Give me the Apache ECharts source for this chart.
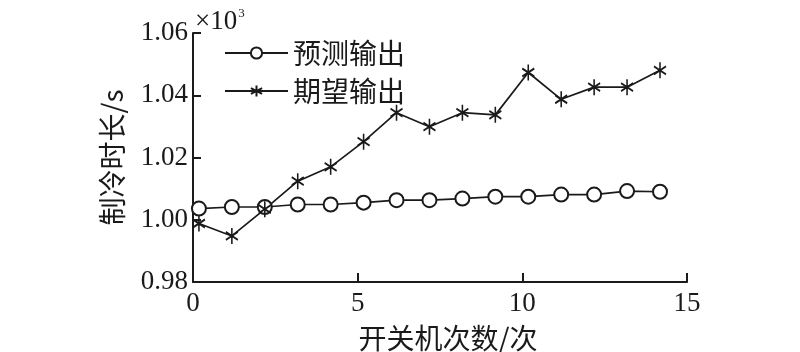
<!DOCTYPE html>
<html>
<head>
<meta charset="utf-8">
<script src="https://cdn.jsdelivr.net/npm/echarts@6/dist/echarts.min.js"></script>
<style>html,body{margin:0;padding:0;background:#fff;}#c{width:800px;height:352px;}</style>
</head>
<body>
<div id="c"></div>
<script>
const xValues = [0.18, 1.18, 2.18, 3.18, 4.18, 5.18, 6.18, 7.18, 8.18, 9.18, 10.18, 11.18, 12.18, 13.18, 14.18];
const predicted = [1.0036, 1.0041, 1.0041, 1.0049, 1.0049, 1.0055, 1.0063, 1.0063, 1.0068, 1.0074, 1.0074, 1.0081, 1.0081, 1.0092, 1.0090];
const expected = [0.9988, 0.9948, 1.0034, 1.0124, 1.0170, 1.0251, 1.0344, 1.0299, 1.0344, 1.0337, 1.0473, 1.0387, 1.0426, 1.0426, 1.0480];
const seriesNames = ['预测输出', '期望输出'];
const xAxisTitle = '开关机次数/次';
const yAxisTitle = '制冷时长/s';

const serif = '"Liberation Serif", "Times New Roman", serif';
const cjk = '"Noto Sans CJK SC", "Liberation Serif", serif';
const ink = '#1a1a1a';
const star = 'path://M0,-10L0,10M-7,-5L7,5M-7,5L7,-5';

const chart = echarts.init(document.getElementById('c'), null, {renderer: 'canvas'});
chart.setOption({
  backgroundColor: '#fff',
  animation: false,
  grid: {left: 193, right: 113, top: 33, bottom: 70, containLabel: false, outerBoundsMode: 'none'},
  title: {
    text: '{a|×10}{b|3}',
    left: 190, top: 2,
    textStyle: {fontWeight: 'normal', rich: {
      a: {fontFamily: serif, fontSize: 27, color: ink, fontWeight: 'normal'},
      b: {fontFamily: serif, fontSize: 13, color: ink, fontWeight: 'normal', verticalAlign: 'top', padding: [0,0,16,1]}
    }}
  },
  legend: {
    orient: 'vertical', left: 224, top: 34, itemGap: 0, padding: 0,
    itemWidth: 63, itemHeight: 14,
    textStyle: {fontFamily: cjk, fontSize: 28, color: ink, lineHeight: 38},
    data: [
      {name: seriesNames[0]},
      {name: seriesNames[1]}
    ]
  },
  xAxis: {
    type: 'value', min: 0, max: 15, interval: 5,
    name: xAxisTitle, nameLocation: 'middle', nameGap: 42,
    nameTextStyle: {fontFamily: cjk, fontSize: 28, color: ink, padding: [0, 0, 0, 16]},
    axisLine: {show: true, lineStyle: {color: ink, width: 2}},
    axisTick: {show: true, inside: true, length: 9, lineStyle: {color: ink, width: 2}},
    axisLabel: {fontFamily: serif, fontSize: 27, color: ink, margin: 8},
    splitLine: {show: false}
  },
  yAxis: {
    type: 'value', min: 0.98, max: 1.06, interval: 0.02,
    name: yAxisTitle, nameLocation: 'middle', nameGap: 67,
    nameTextStyle: {fontFamily: cjk, fontSize: 28, color: ink},
    axisLine: {show: true, lineStyle: {color: ink, width: 2}},
    axisTick: {show: true, inside: true, length: 8, lineStyle: {color: ink, width: 2}},
    axisLabel: {fontFamily: serif, fontSize: 27, color: ink, margin: 5,
      formatter: v => v.toFixed(2)},
    splitLine: {show: false}
  },
  series: [
    {
      name: seriesNames[0], type: 'line',
      data: xValues.map((x, i) => [x, predicted[i]]),
      symbol: 'emptyCircle', symbolSize: 14,
      lineStyle: {color: ink, width: 1.7},
      itemStyle: {color: ink, borderColor: ink, borderWidth: 1.5}
    },
    {
      name: seriesNames[1], type: 'line',
      data: xValues.map((x, i) => [x, expected[i]]),
      symbol: star, symbolSize: [12, 16],
      lineStyle: {color: ink, width: 1.7},
      itemStyle: {color: 'none', borderColor: ink, borderWidth: 1.8}
    }
  ]
});
</script>
</body>
</html>
